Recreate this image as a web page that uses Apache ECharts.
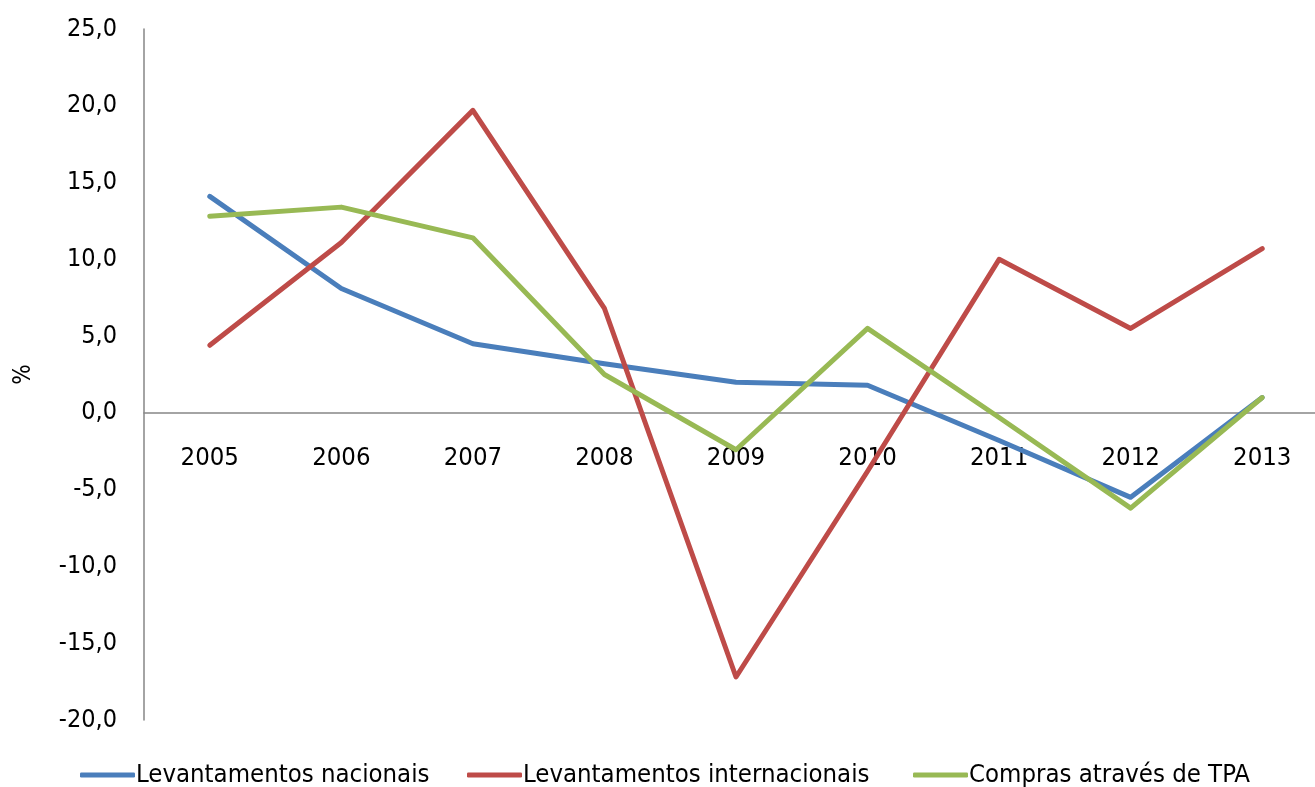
<!DOCTYPE html>
<html>
<head>
<meta charset="utf-8">
<script src="https://cdn.jsdelivr.net/npm/echarts@6/dist/echarts.min.js"></script>
<style>
html,body{margin:0;padding:0;background:#fff;}
#chart{width:1315px;height:787px;}
</style>
</head>
<body>
<div id="chart"></div>
<script>
const years = ['2005','2006','2007','2008','2009','2010','2011','2012','2013'];
const nacionais = [14.1, 8.1, 4.5, 3.2, 2.0, 1.8, -1.8, -5.5, 1.0];
const internacionais = [4.4, 11.1, 19.7, 6.8, -17.2, -3.8, 10.0, 5.5, 10.7];
const tpa = [12.8, 13.4, 11.4, 2.5, -2.4, 5.5, -0.3, -6.2, 1.0];
const seriesNames = ['Levantamentos nacionais', 'Levantamentos internacionais', 'Compras através de TPA'];
const yTicks = {min: -20, max: 25, interval: 5};

const FONT = '"DejaVu Sans Condensed", "DejaVu Sans", sans-serif';
const colors = ['#4A7EBB', '#BE4B48', '#98B954'];
const legendLefts = [75, 462, 908];

const chart = echarts.init(document.getElementById('chart'));
const mk = (name, data, i) => ({
  name: name, type: 'line', data: data, symbol: 'none',
  lineStyle: {width: 5, color: colors[i], cap: 'round', join: 'round'},
  itemStyle: {color: colors[i]},
  animation: false
});
chart.setOption({
  backgroundColor: '#ffffff',
  animation: false,
  grid: {left: 144, top: 29, bottom: 67, width: 1184, outerBoundsMode: 'none', containLabel: false},
  legend: seriesNames.map((n, i) => ({
    top: 757, left: legendLefts[i],
    itemWidth: 55, itemHeight: 5, itemGap: 0,
    icon: 'roundRect',
    textStyle: {fontFamily: FONT, fontSize: 25.5, color: '#000', padding: [0,0,0,-4]},
    data: [n]
  })),
  xAxis: {
    type: 'category', data: years, boundaryGap: true,
    position: 'bottom', offset: -307,
    axisLine: {onZero: false, lineStyle: {color: '#868686', width: 1.5}},
    axisTick: {show: false},
    axisLabel: {color: '#000', fontFamily: FONT, fontSize: 25.5, margin: 32}
  },
  yAxis: {
    type: 'value', min: yTicks.min, max: yTicks.max, interval: yTicks.interval,
    name: '%', nameLocation: 'middle', nameGap: 108, nameRotate: 90,
    nameTextStyle: {color: '#000', fontFamily: FONT, fontSize: 24},
    axisLine: {show: true, lineStyle: {color: '#868686', width: 1.5}},
    axisTick: {show: false},
    splitLine: {show: false},
    axisLabel: {color: '#000', fontFamily: FONT, fontSize: 25, margin: 27,
      formatter: v => v.toFixed(1).replace('.', ',')}
  },
  series: [mk(seriesNames[0], nacionais, 0), mk(seriesNames[1], internacionais, 1), mk(seriesNames[2], tpa, 2)]
});
</script>
</body>
</html>
